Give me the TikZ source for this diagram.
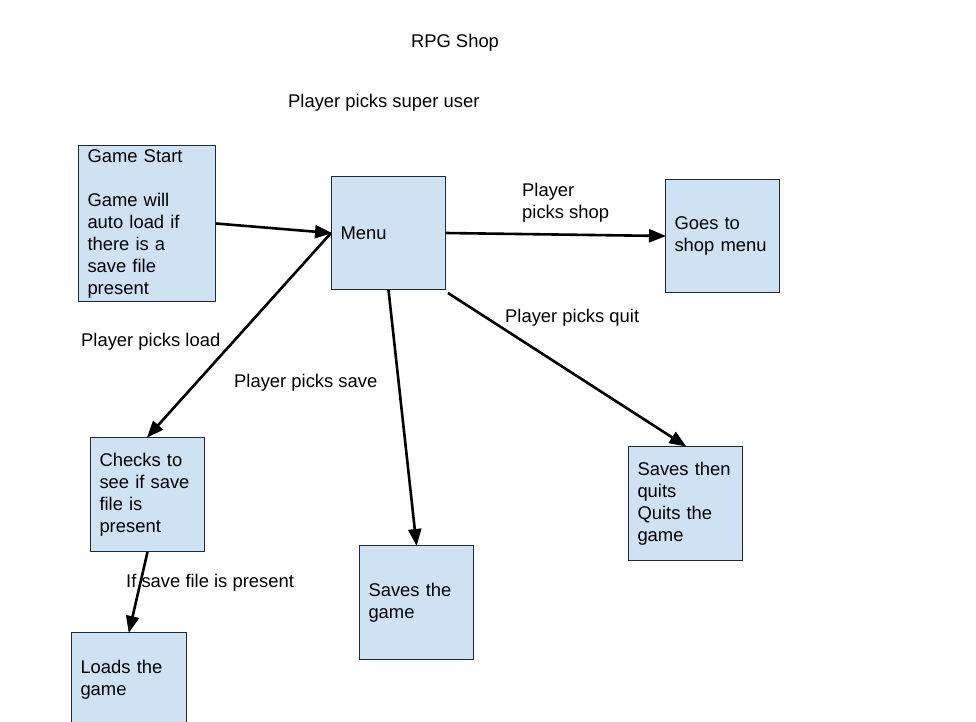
\documentclass[tikz,border=0pt]{standalone}
\usepackage{fontspec}
\setmainfont{Liberation Sans}
\usetikzlibrary{arrows.meta}
\definecolor{boxfill}{HTML}{CFE2F3}
\definecolor{boxline}{HTML}{1F2A36}
\tikzset{
  box/.style={draw=boxline, fill=boxfill, line width=1pt, align=left,
    inner xsep=9pt, inner ysep=0pt, anchor=north west,
    font=\fontsize{18.4}{22}\selectfont},
  lbl/.style={inner sep=0pt, anchor=base west, font=\fontsize{18.4}{22}\selectfont},
  conn/.style={line width=2.6pt, -{Triangle[length=17pt,width=13pt]}, shorten >=-1pt}
}
\begin{document}
\begin{tikzpicture}[x=1pt,y=-1pt]
\useasboundingbox (0,0) rectangle (976,721);
% boxes
\node[box, text width=119pt, minimum width=137pt, minimum height=156pt] (gs) at (78,145)
  {Game Start\\[22pt]Game will\\auto load if\\there is a\\save file\\present};
\node[box, text width=96pt, minimum width=114pt, minimum height=113pt] (menu) at (331,176) {Menu};
\node[box, text width=96pt, minimum width=113pt, minimum height=113pt] (shop) at (665,179) {Goes to\\shop menu};
\node[box, text width=96pt, minimum width=114pt, minimum height=114pt] (check) at (90,437) {Checks to\\see if save\\file is\\present};
\node[box, text width=96pt, minimum width=114pt, minimum height=114pt] (save) at (359,545) {Saves the\\game};
\node[box, text width=96pt, minimum width=114pt, minimum height=114pt] (quit) at (628,446) {Saves then\\quits\\Quits the\\game};
\node[box, text width=97pt, minimum width=115pt, minimum height=94pt] (load) at (71,632) {Loads the\\game};
% labels
\node[lbl, anchor=base] (title) at (455,47.6) {RPG Shop};
\node[lbl] (super) at (288,107.6) {Player picks super user};
\node[lbl, anchor=north west, align=left, font=\fontsize{18.4}{22}\selectfont] (lshop) at (522,183) {Player\\picks shop};
\node[lbl] (lquit) at (505,322.6) {Player picks quit};
\node[lbl] (lload) at (81,346.6) {Player picks load};
\node[lbl] (lsave) at (234,387.6) {Player picks save};
\node[lbl] (lif) at (126,587.6) {If save file is present};
% connectors
\draw[conn] (gs.east) -- (menu.west);
\draw[conn] (menu.east) -- (shop.west);
\draw[conn] (menu.west) -- (check.north);
\draw[conn] (menu.south) -- (save.north);
\draw[conn] ([shift={(2,3)}]menu.south east) -- (quit.north);
\draw[conn] (check.south) -- (load.north);
\end{tikzpicture}
\end{document}
